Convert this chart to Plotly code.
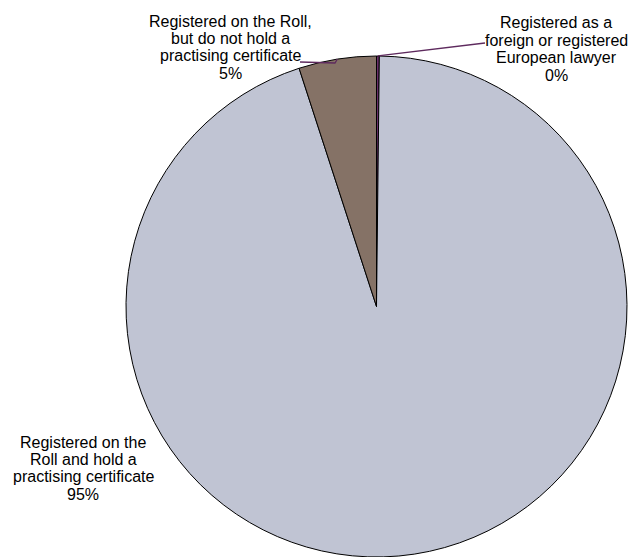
import math
import plotly.graph_objects as go

W, H = 630, 557

# data (clockwise from 12 o'clock)
categories = [["Registered as a", "foreign or registered", "European lawyer"],
              ["Registered on the", "Roll and hold a", "practising certificate"],
              ["Registered on the Roll,", "but do not hold a", "practising certificate"]]
values = [0.18, 94.82, 5.0]
colors = ["#6B2F6B", "#C0C4D3", "#857266"]
pct_labels = ["0%", "95%", "5%"]

# pie geometry in pixels
cx, cy, r = 376.5, 306.5, 250.5
dom_x = [max(0, (cx - r) / W), min(1, (cx + r) / W)]
dom_y = [max(0, 1 - (cy + r) / H), min(1, 1 - (cy - r) / H)]

fig = go.Figure()
fig.add_trace(go.Pie(
    labels=[" ".join(c) for c in categories], values=values,
    sort=False, direction="clockwise", rotation=0,
    marker=dict(colors=colors, line=dict(color="#000000", width=1)),
    textinfo="none", hoverinfo="label+percent",
    showlegend=False,
    domain=dict(x=dom_x, y=dom_y),
))

# labels: one annotation per line so the line spacing matches
label_pos = [(556, 23), (83, 442), (230, 21)]   # centre x, first line y
line_gap = 17.4
font = dict(family="Liberation Sans, Arial, sans-serif", size=16, color="#000000")
for lines, pct, (lx, ly) in zip(categories, pct_labels, label_pos):
    for k, txt in enumerate(lines + [pct]):
        fig.add_annotation(x=lx / W, y=1 - (ly + k * line_gap) / H,
                           xref="paper", yref="paper", text=txt, showarrow=False,
                           font=font, xanchor="center", yanchor="middle")

# leader lines to the two small slices
def edge_point(frac):
    a = 2 * math.pi * frac
    return cx + r * math.sin(a), cy - r * math.cos(a)

total = sum(values)
mid_foreign = values[0] / 2 / total
mid_not = (values[0] + values[1] + values[2] / 2) / total
leaders = [
    [edge_point(mid_foreign), (485, 43)],
    [(300, 62), (335, 63), edge_point(mid_not)],
]
for pts in leaders:
    path = "M " + " L ".join("%.4f,%.4f" % (px / W, 1 - py / H) for px, py in pts)
    fig.add_shape(type="path", path=path, xref="paper", yref="paper",
                  line=dict(color="#5E2A5E", width=1.3))

fig.update_layout(width=W, height=H, margin=dict(l=0, r=0, t=0, b=0),
                  paper_bgcolor="#FFFFFF", plot_bgcolor="#FFFFFF")
fig.write_html("out.html", config={"displayModeBar": False},
               post_script="document.body.style.margin='0';")
